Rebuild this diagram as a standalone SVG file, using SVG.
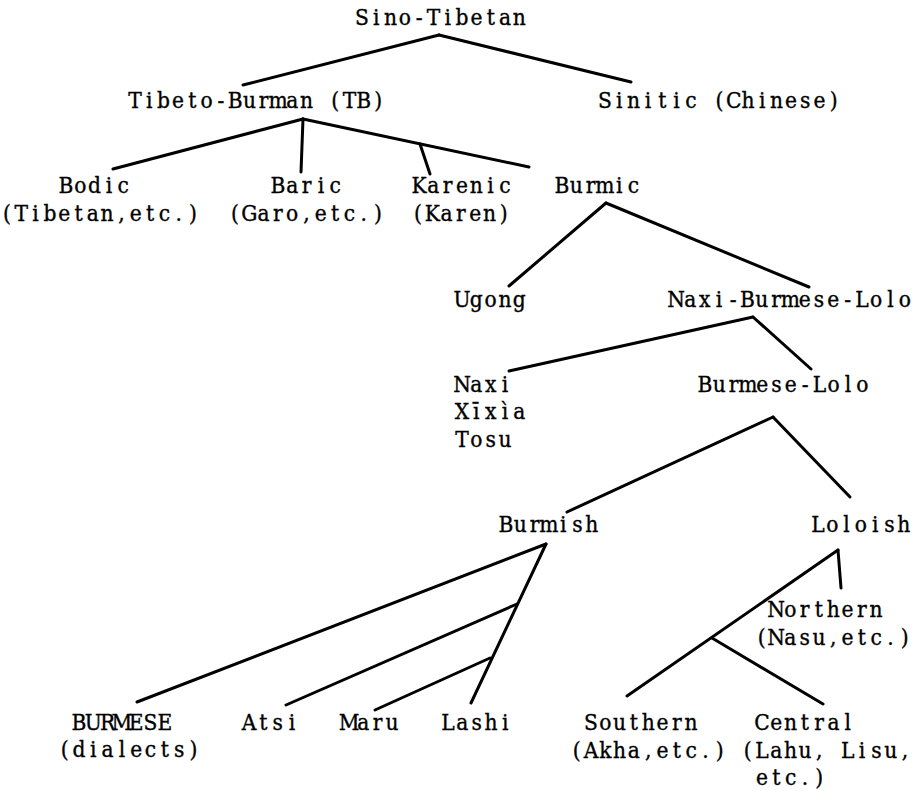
<svg xmlns="http://www.w3.org/2000/svg" width="919" height="791" viewBox="0 0 919 791">
<style>
text{font-family:"DejaVu Serif Condensed","DejaVu Serif","Liberation Serif",serif;font-size:22.5px;fill:#000;stroke:#000;stroke-width:0.35px;text-anchor:middle}
.c line{stroke:#000;stroke-width:3;stroke-linecap:round}
</style>
<rect width="919" height="791" fill="#fff"/>
<g id="connectors" class="c">
<line x1="439" y1="35" x2="243" y2="85"/>
<line x1="439" y1="35" x2="631" y2="82"/>
<line x1="303" y1="119" x2="113" y2="169"/>
<line x1="303" y1="119" x2="301" y2="172"/>
<line x1="303" y1="119" x2="529" y2="167"/>
<line x1="420" y1="144" x2="430" y2="174"/>
<line x1="606" y1="203" x2="509" y2="286"/>
<line x1="606" y1="203" x2="809" y2="287"/>
<line x1="753" y1="317" x2="509" y2="371"/>
<line x1="753" y1="317" x2="811" y2="369"/>
<line x1="773" y1="417" x2="567" y2="512"/>
<line x1="773" y1="417" x2="850" y2="497"/>
<line x1="546" y1="544" x2="137" y2="702"/>
<line x1="546" y1="544" x2="471" y2="703"/>
<line x1="517" y1="604" x2="286" y2="705"/>
<line x1="490" y1="658" x2="375" y2="710"/>
<line x1="838" y1="550" x2="841" y2="588"/>
<line x1="838" y1="550" x2="627" y2="696"/>
<line x1="712" y1="638" x2="823" y2="704"/>
</g>
<g id="sino-tibetan"><text x="362 376.3 390.6 404.9 419.2 433.5 447.8 462.1 476.4 490.7 505 519.3" y="25">Sino-Tibetan</text></g>
<g id="tibeto-burman"><text x="135 149.3 163.6 177.9 192.2 206.5 220.8 235.1 249.4 263.7 278 292.3 306.6 320.9 335.2 349.5 363.8 378.1" y="108">Tibeto-Burman (TB)</text></g>
<g id="sinitic"><text x="605 619.3 633.6 647.9 662.2 676.5 690.8 705.1 719.4 733.7 748 762.3 776.6 790.9 805.2 819.5 833.8" y="108">Sinitic (Chinese)</text></g>
<g id="bodic"><text x="66 80.3 94.6 108.9 123.2" y="193">Bodic</text><text x="7 21.3 35.6 49.9 64.2 78.5 92.8 107.1 121.4 135.7 150 164.3 178.6 192.9" y="221">(Tibetan,etc.)</text></g>
<g id="baric"><text x="278 292.3 306.6 320.9 335.2" y="193">Baric</text><text x="235 249.3 263.6 277.9 292.2 306.5 320.8 335.1 349.4 363.7 378" y="221">(Garo,etc.)</text></g>
<g id="karenic"><text x="419 433.3 447.6 461.9 476.2 490.5 504.8" y="193">Karenic</text><text x="418 432.3 446.6 460.9 475.2 489.5 503.8" y="221">(Karen)</text></g>
<g id="burmic"><text x="562 576.3 590.6 604.9 619.2 633.5" y="193">Burmic</text></g>
<g id="ugong"><text x="462 476.3 490.6 504.9 519.2" y="307">Ugong</text></g>
<g id="naxi-burmese-lolo"><text x="676 690.3 704.6 718.9 733.2 747.5 761.8 776.1 790.4 804.7 819 833.3 847.6 861.9 876.2 890.5 904.8" y="307">Naxi-Burmese-Lolo</text></g>
<g id="naxi"><text x="462 476.3 490.6 504.9" y="392">Naxi</text><text x="462 476.3 490.6 504.9 519.2" y="419">Xīxìa</text><text x="462 476.3 490.6 504.9" y="447">Tosu</text></g>
<g id="burmese-lolo"><text x="705 719.3 733.6 747.9 762.2 776.5 790.8 805.1 819.4 833.7 848 862.3" y="392">Burmese-Lolo</text></g>
<g id="burmish"><text x="506 520.3 534.6 548.9 563.2 577.5 591.8" y="532">Burmish</text></g>
<g id="loloish"><text x="818 832.3 846.6 860.9 875.2 889.5 903.8" y="532">Loloish</text></g>
<g id="northern"><text x="776 790.3 804.6 818.9 833.2 847.5 861.8 876.1" y="617">Northern</text><text x="761.7 776 790.3 804.6 818.9 833.2 847.5 861.8 876.1 890.4 904.7" y="645">(Nasu,etc.)</text></g>
<g id="burmese"><text x="79 93.3 107.6 121.9 136.2 150.5 164.8" y="730">BURMESE</text><text x="64.7 79 93.3 107.6 121.9 136.2 150.5 164.8 179.1 193.4" y="757">(dialects)</text></g>
<g id="atsi"><text x="249 263.3 277.6 291.9" y="730">Atsi</text></g>
<g id="maru"><text x="349 363.3 377.6 391.9" y="730">Maru</text></g>
<g id="lashi"><text x="448 462.3 476.6 490.9 505.2" y="730">Lashi</text></g>
<g id="southern"><text x="591 605.3 619.6 633.9 648.2 662.5 676.8 691.1" y="730">Southern</text><text x="576.7 591 605.3 619.6 633.9 648.2 662.5 676.8 691.1 705.4 719.7" y="758">(Akha,etc.)</text></g>
<g id="central"><text x="762 776.3 790.6 804.9 819.2 833.5 847.8" y="730">Central</text><text x="747.7 762 776.3 790.6 804.9 819.2 833.5 847.8 862.1 876.4 890.7 905" y="758">(Lahu, Lisu,</text><text x="762 776.3 790.6 804.9 819.2" y="785">etc.)</text></g>
</svg>
